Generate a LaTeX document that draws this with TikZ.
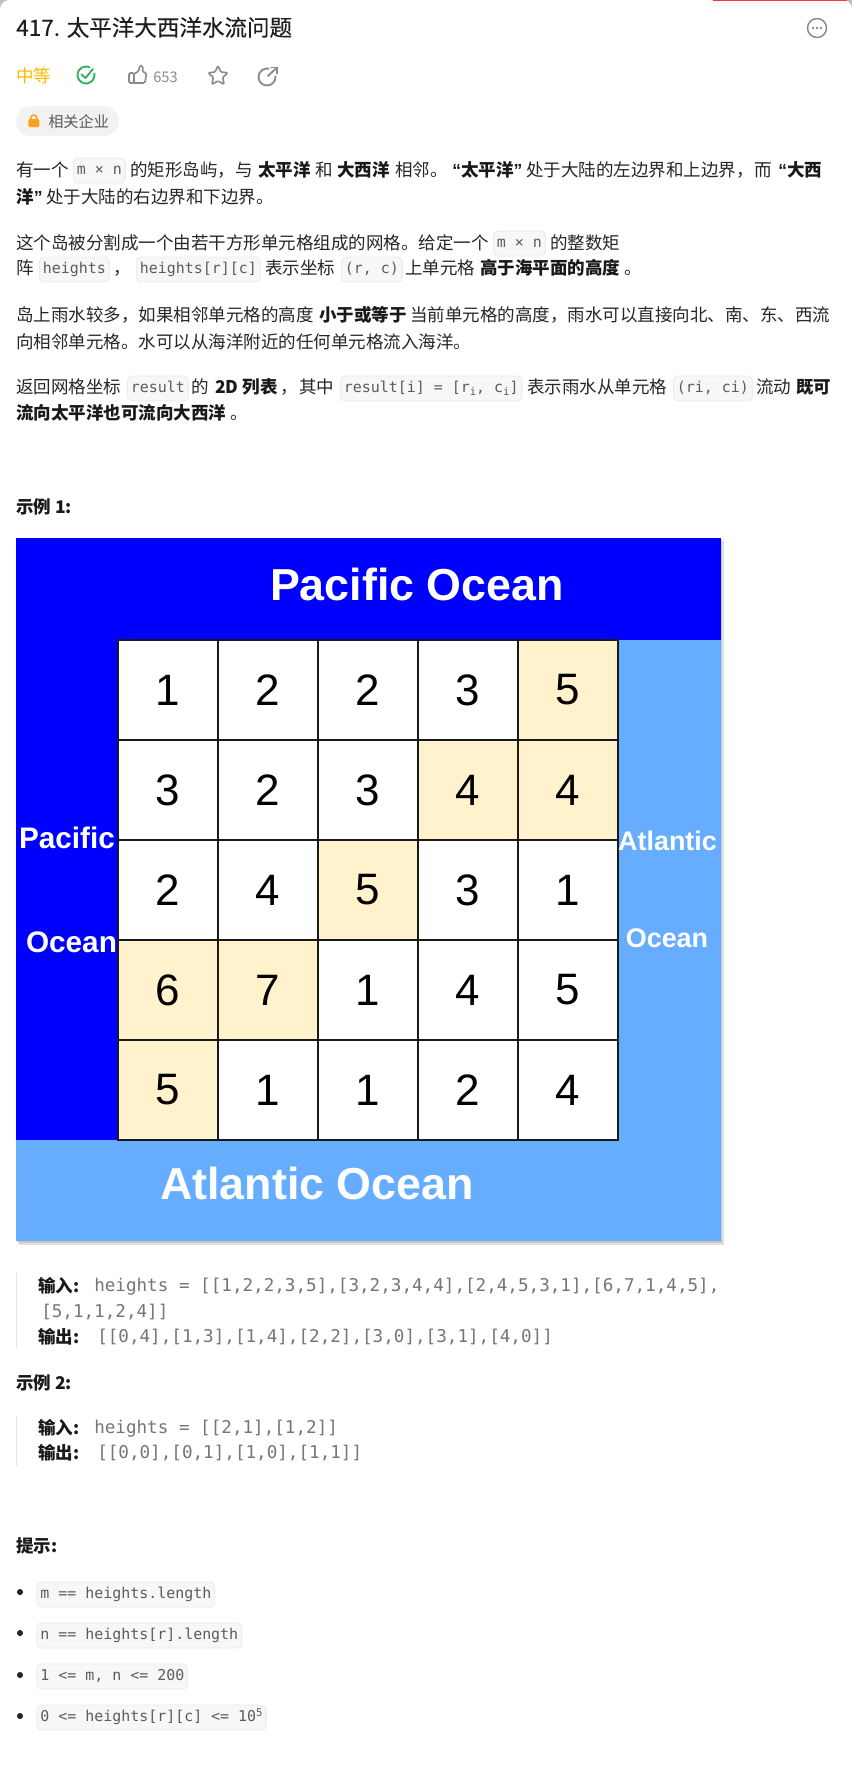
\documentclass[tikz,border=0pt]{standalone}
\usepackage{fontspec}
\usepackage{tikz}
\usetikzlibrary{positioning,shapes.geometric}
\setmainfont{Noto Sans CJK SC}
\newfontfamily\codefont{DejaVu Sans Mono}
\newfontfamily\imagefont{Liberation Sans}
\newfontfamily\titlefont[FakeBold=0.25]{Noto Sans CJK SC}
\newcommand{\openquote}{{\imagefont “}}
\newcommand{\closequote}{{\imagefont ”}}
\newcommand{\subi}{\raisebox{-2pt}{\fontsize{8}{8}\selectfont i}}
\definecolor{body_gray}{HTML}{262626}
\definecolor{code_gray}{HTML}{5C5C5C}
\definecolor{icon_gray}{HTML}{8A8A8A}
\definecolor{chip_fill}{HTML}{F7F7F8}
\definecolor{chip_line}{HTML}{EBEBEB}
\definecolor{pacific_blue}{HTML}{0000FF}
\definecolor{atlantic_blue}{HTML}{66ADFF}
\definecolor{cell_yellow}{HTML}{FFF2CC}
\definecolor{medium_orange}{HTML}{FFB800}
\definecolor{lock_orange}{HTML}{FFA116}
\definecolor{check_green}{HTML}{2DB55D}
\begin{document}
\begin{tikzpicture}[
        x=0.75pt, y=-0.75pt,
        body_text/.style={anchor=west, inner sep=0pt, text=body_gray, text height=12pt, text depth=1.6pt, font=\fontsize{13.13}{16}\selectfont},
        bold_text/.style={body_text, text=black!90, font=\fontsize{13.13}{16}\selectfont\bfseries},
        code_chip/.style={anchor=west, draw=chip_line, fill=chip_fill, rounded corners=3.5pt, line width=0.7pt, inner xsep=2.6pt, inner ysep=0pt, minimum height=18.75pt, text=code_gray, text height=8.6pt, text depth=2.2pt, font=\codefont\fontsize{11.2}{13}\selectfont},
        code_text/.style={anchor=west, inner sep=0pt, text=code_gray!85, text height=10pt, text depth=2.5pt, font=\codefont\fontsize{13.2}{16}\selectfont},
        cell_node/.style={rectangle, draw=black!90, line width=2.2pt, fill=white, outer sep=0pt, inner sep=0pt, minimum size=75pt, font=\imagefont\fontsize{33}{36}\selectfont},
        cell_high/.style={cell_node, fill=cell_yellow},
        ocean_text/.style={inner sep=0pt, text=white, font=\imagefont\bfseries\fontsize{33.6}{36}\selectfont},
        side_text/.style={inner sep=0pt, text=white, font=\imagefont\bfseries\fontsize{22.3}{24}\selectfont},
        icon_line/.style={draw=icon_gray, line width=1.2pt, line cap=round, line join=round},
        quote_bar/.style={draw=black!10, line width=1.1pt},
        dot_node/.style={circle, fill=body_gray, inner sep=0pt, minimum size=4.6pt}
        ]
            \useasboundingbox (0,0) rectangle (852,1767);
            \fill[white] (0,0) rectangle (852,1767);
            % page corners and top line
            \fill[black!25] (0,0) -- (9,0) arc (270:180:9) -- cycle;
            \fill[black!25] (852,0) -- (843,0) arc (270:360:9) -- cycle;
            \draw[red!80, line width=1pt] (713,0.5) -- (847,0.5);

            % header
            \node[body_text, anchor=west, text=black!88, font=\titlefont\fontsize{16.9}{20}\selectfont] (title) at (16,29) {417. 太平洋大西洋水流问题};
            \draw[icon_line, line width=1.1pt] (817,28) circle (9.5);
            \node[dot_node, fill=icon_gray, minimum size=2pt] (more_1) at (813,28) {};
            \node[dot_node, fill=icon_gray, minimum size=2pt] (more_2) at (817,28) {};
            \node[dot_node, fill=icon_gray, minimum size=2pt] (more_3) at (821,28) {};
            \node[body_text, text=medium_orange] (level) at (16,76) {中等};
            % check
            \draw[check_green, line width=1.4pt, line cap=round] (86,75) ++(-10:8.5) arc (-10:295:8.5);
            \draw[check_green, line width=1.4pt, line cap=round, line join=round] (81.5,74.5) -- (85.5,78) -- (93,69);
            % thumb
            \draw[icon_line, rounded corners=1pt] (129,73) rectangle (134,83);
            \draw[icon_line, rounded corners=1.2pt] (134,74) -- (139,71) -- (139.5,65.5) -- (143,66) -- (142.5,72.5) -- (146.5,72.5) -- (145,83) -- (134,83);
            \node[body_text, text=icon_gray, font=\fontsize{11}{13}\selectfont] (likes) at (153,76) {653};
            % star and share
            \node[star, star points=5, star point ratio=2.1, icon_line, rounded corners=0.8pt, inner sep=0pt, minimum size=15.5pt] (star_icon) at (218,76) {};
            \draw[icon_line, line width=1.4pt] (267,77) ++(-5:8.5) arc (-5:280:8.5);
            \draw[icon_line, line width=1.4pt] (268,76) -- (277,67.5);
            \draw[icon_line, line width=1.4pt] (271,67.5) -- (277,67.5) -- (277,73.5);

            % company chip
            \node[anchor=west, fill=black!5, rounded corners=11pt, minimum width=76.9pt, minimum height=22.5pt, inner sep=0pt] (company) at (16,121) {};
            \fill[lock_orange, rounded corners=1pt] (28.3,119) rectangle (39.3,127);
            \draw[lock_orange, line width=1.1pt] (30.8,119) -- (30.8,118) arc (180:360:3) -- (36.8,119);
            \node[body_text, text=black!65, font=\fontsize{11.4}{13}\selectfont] (company_text) at (48,121) {相关企业};

            % paragraph 1
            \node[body_text] (p1_a) at (16,170) {有一个};
            \node[code_chip] (p1_b) at (73,170.5) {m × n};
            \node[body_text] (p1_c) at (130,170) {的矩形岛屿，与};
            \node[bold_text] (p1_d) at (258,170) {太平洋};
            \node[body_text] (p1_e) at (315,170) {和};
            \node[bold_text] (p1_f) at (337,170) {大西洋};
            \node[body_text] (p1_g) at (395,170) {相邻。};
            \node[bold_text] (p1_h) at (452,170) {\openquote 太平洋\closequote};
            \node[body_text] (p1_i) at (526,170) {处于大陆的左边界和上边界，};
            \node[body_text] (p1_j) at (754,170) {而};
            \node[bold_text] (p1_k) at (778,170) {\openquote 大西};
            \node[bold_text] (p2_a) at (16,197) {洋\closequote};
            \node[body_text] (p2_b) at (46,197) {处于大陆的右边界和下边界。};

            % paragraph 2
            \node[body_text] (p3_a) at (16,243) {这个岛被分割成一个由若干方形单元格组成的网格。给定一个};
            \node[code_chip] (p3_b) at (493,243.5) {m × n};
            \node[body_text] (p3_c) at (550,243) {的整数矩};
            \node[body_text] (p4_a) at (16,268) {阵};
            \node[code_chip] (p4_b) at (39,269.5) {heights};
            \node[body_text] (p4_c) at (113,268) {，};
            \node[code_chip] (p4_d) at (136,269.5) {heights[r][c]};
            \node[body_text] (p4_e) at (265,268) {表示坐标};
            \node[code_chip] (p4_f) at (341,269.5) {(r, c)};
            \node[body_text] (p4_g) at (405,268) {上单元格};
            \node[bold_text] (p4_h) at (480,268) {高于海平面的高度};
            \node[body_text] (p4_i) at (624,268) {。};

            % paragraph 3
            \node[body_text] (p5_a) at (16,315) {岛上雨水较多，如果相邻单元格的高度};
            \node[bold_text] (p5_b) at (319,315) {小于或等于};
            \node[body_text] (p5_c) at (410,315) {当前单元格的高度，雨水可以直接向北、南、东、西流};
            \node[body_text] (p6_a) at (16,342) {向相邻单元格。水可以从海洋附近的任何单元格流入海洋。};

            % paragraph 4
            \node[body_text] (p7_a) at (16,387) {返回网格坐标};
            \node[code_chip] (p7_b) at (127,388.5) {result};
            \node[body_text] (p7_c) at (191,387) {的};
            \node[bold_text] (p7_d) at (215,387) {2D 列表};
            \node[body_text] (p7_e) at (280,387) {，};
            \node[body_text] (p7_f) at (299,387) {其中};
            \node[code_chip] (p7_g) at (340,388.5) {result[i] = [r\subi, c\subi]};
            \node[body_text] (p7_h) at (527,387) {表示雨水从单元格};
            \node[code_chip] (p7_i) at (673,388.5) {(ri, ci)};
            \node[body_text] (p7_j) at (756,387) {流动};
            \node[bold_text] (p7_k) at (796,387) {既可};
            \node[bold_text] (p8_a) at (16,413) {流向太平洋也可流向大西洋};
            \node[body_text] (p8_b) at (230,413) {。};

            \node[bold_text] (example_1) at (16,507) {示例 1:};

            % image areas
            \fill[black!12] (19,541) rectangle (724,1245);
            \fill[black!22] (18,540) rectangle (722,1243);
            \fill[atlantic_blue] (16,640) rectangle (720.5,1241);
            \fill[pacific_blue] (16,538) rectangle (720.5,640);
            \fill[pacific_blue] (16,640) rectangle (118,1140);

            % grid
            \node[cell_node]    (cell_11) at (168,690)            {1};
            \node[cell_node]    (cell_12) [right = 0pt of cell_11] {2};
            \node[cell_node]    (cell_13) [right = 0pt of cell_12] {2};
            \node[cell_node]    (cell_14) [right = 0pt of cell_13] {3};
            \node[cell_high]    (cell_15) [right = 0pt of cell_14] {5};
            \node[cell_node]    (cell_21) [below = 0pt of cell_11] {3};
            \node[cell_node]    (cell_22) [right = 0pt of cell_21] {2};
            \node[cell_node]    (cell_23) [right = 0pt of cell_22] {3};
            \node[cell_high]    (cell_24) [right = 0pt of cell_23] {4};
            \node[cell_high]    (cell_25) [right = 0pt of cell_24] {4};
            \node[cell_node]    (cell_31) [below = 0pt of cell_21] {2};
            \node[cell_node]    (cell_32) [right = 0pt of cell_31] {4};
            \node[cell_high]    (cell_33) [right = 0pt of cell_32] {5};
            \node[cell_node]    (cell_34) [right = 0pt of cell_33] {3};
            \node[cell_node]    (cell_35) [right = 0pt of cell_34] {1};
            \node[cell_high]    (cell_41) [below = 0pt of cell_31] {6};
            \node[cell_high]    (cell_42) [right = 0pt of cell_41] {7};
            \node[cell_node]    (cell_43) [right = 0pt of cell_42] {1};
            \node[cell_node]    (cell_44) [right = 0pt of cell_43] {4};
            \node[cell_node]    (cell_45) [right = 0pt of cell_44] {5};
            \node[cell_high]    (cell_51) [below = 0pt of cell_41] {5};
            \node[cell_node]    (cell_52) [right = 0pt of cell_51] {1};
            \node[cell_node]    (cell_53) [right = 0pt of cell_52] {1};
            \node[cell_node]    (cell_54) [right = 0pt of cell_53] {2};
            \node[cell_node]    (cell_55) [right = 0pt of cell_54] {4};

            % image text
            \node[ocean_text] (pacific_top) at (417,584) {Pacific Ocean};
            \node[ocean_text] (atlantic_bottom) at (317,1183) {Atlantic Ocean};
            \node[side_text] (pacific_left) at (67,838) {Pacific};
            \node[side_text] (pacific_ocean) at (71.5,942) {Ocean};
            \node[side_text, font=\imagefont\bfseries\fontsize{20.2}{22}\selectfont] (atlantic_right) at (667.5,841) {Atlantic};
            \node[side_text, font=\imagefont\bfseries\fontsize{20.2}{22}\selectfont] (atlantic_ocean) at (667,938) {Ocean};

            % example 1
            \draw[quote_bar] (16.5,1273) -- (16.5,1348);
            \node[bold_text] (input_1) at (38,1286) {输入:};
            \node[code_text] (input_1_val) at (94,1286) {heights = [[1,2,2,3,5],[3,2,3,4,4],[2,4,5,3,1],[6,7,1,4,5],};
            \node[code_text] (input_1_more) at (41,1312) {[5,1,1,2,4]]};
            \node[bold_text] (output_1) at (38,1337) {输出:};
            \node[code_text] (output_1_val) at (97,1337) {[[0,4],[1,3],[1,4],[2,2],[3,0],[3,1],[4,0]]};

            % example 2
            \node[bold_text] (example_2) at (16,1383) {示例 2:};
            \draw[quote_bar] (16.5,1416) -- (16.5,1466);
            \node[bold_text] (input_2) at (38,1428) {输入:};
            \node[code_text] (input_2_val) at (94,1428) {heights = [[2,1],[1,2]]};
            \node[bold_text] (output_2) at (38,1453) {输出:};
            \node[code_text] (output_2_val) at (97,1453) {[[0,0],[0,1],[1,0],[1,1]]};

            % hints
            \node[bold_text] (hint) at (16,1546) {提示:};
            \node[dot_node] (dot_1) at (20,1592) {};
            \node[dot_node] (dot_2) at (20,1633) {};
            \node[dot_node] (dot_3) at (20,1675) {};
            \node[dot_node] (dot_4) at (20,1716) {};
            \node[code_chip] (hint_1) at (36.5,1594.5) {m == heights.length};
            \node[code_chip] (hint_2) at (36.5,1635.5) {n == heights[r].length};
            \node[code_chip] (hint_3) at (36.5,1676.5) {1 <= m, n <= 200};
            \node[code_chip] (hint_4) at (36.5,1717.5) {0 <= heights[r][c] <= 10\raisebox{4pt}{\fontsize{8}{8}\selectfont 5}};
\end{tikzpicture}
\end{document}
